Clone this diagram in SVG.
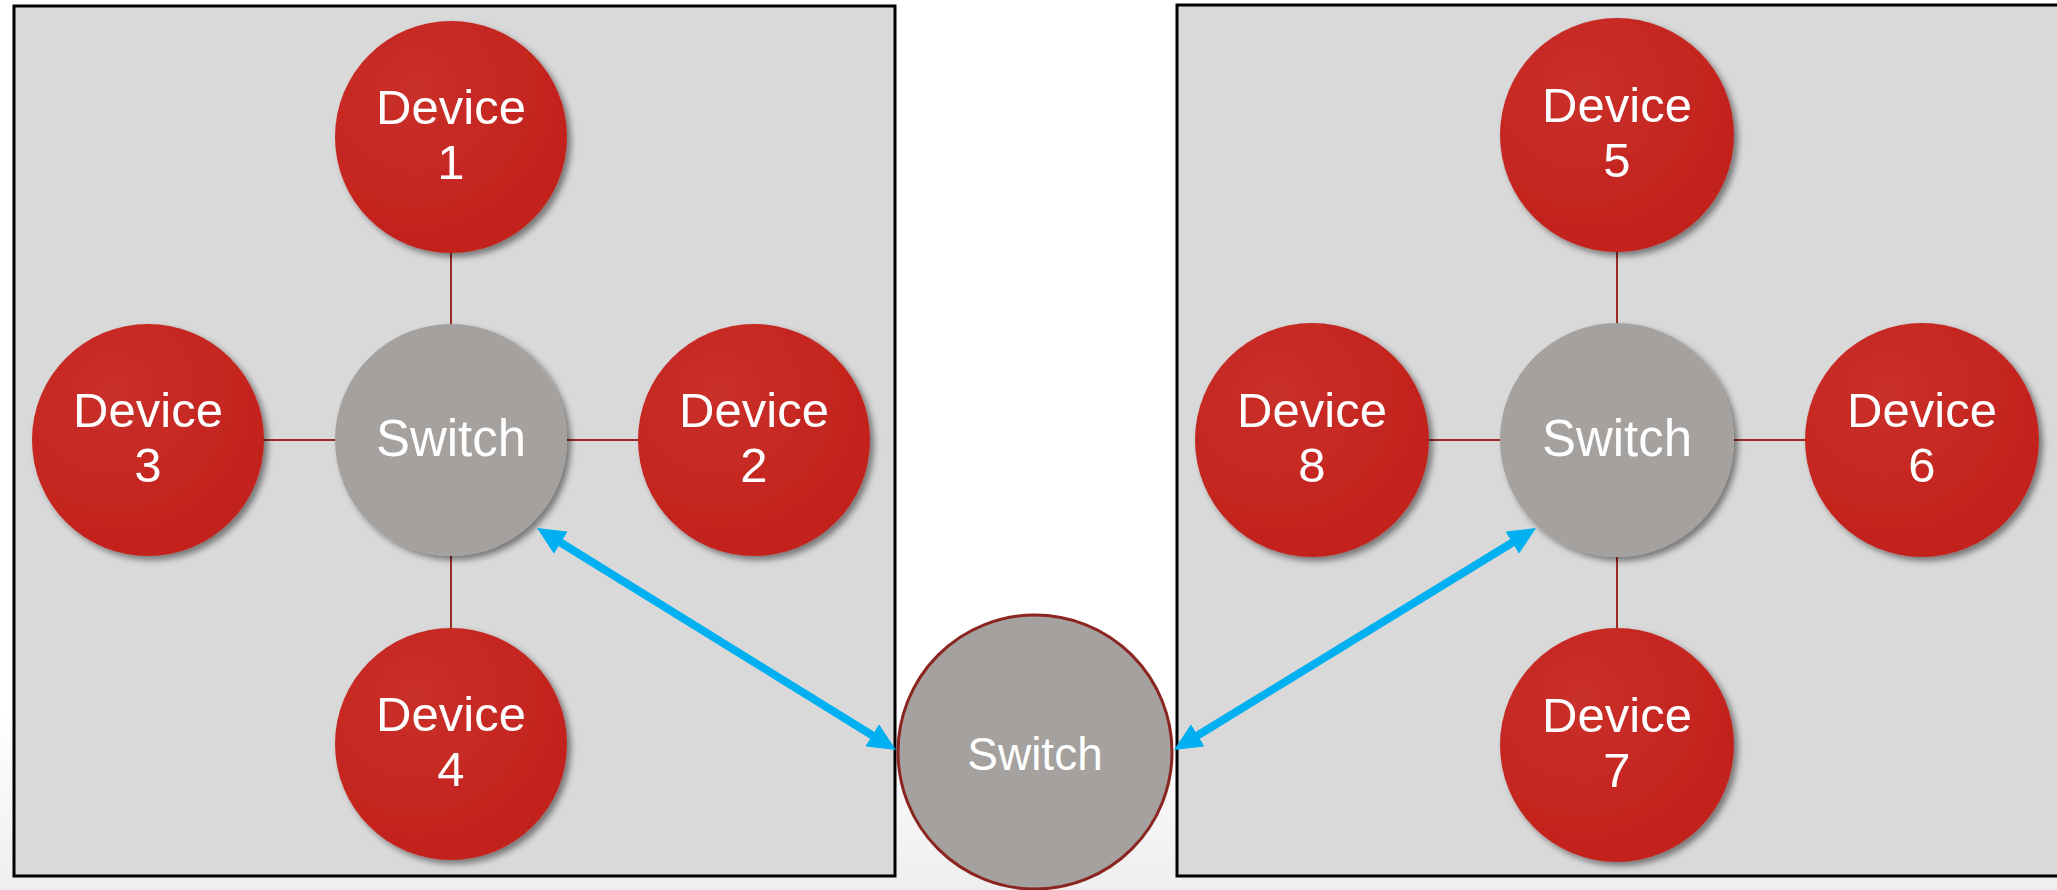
<svg xmlns="http://www.w3.org/2000/svg" width="2057" height="890" viewBox="0 0 2057 890">
<defs>
<linearGradient id="bg" x1="0" y1="0" x2="0" y2="1"><stop offset="0.8" stop-color="#ffffff"/><stop offset="1" stop-color="#eeeeee"/></linearGradient>
<radialGradient id="red" cx="0.35" cy="0.3" r="0.8"><stop offset="0" stop-color="#C9302A"/><stop offset="1" stop-color="#C21F19"/></radialGradient>
<filter id="sh" x="-20%" y="-20%" width="150%" height="150%"><feDropShadow dx="4" dy="4" stdDeviation="3" flood-color="#000" flood-opacity="0.45"/></filter>
<marker id="ah" markerUnits="userSpaceOnUse" viewBox="0 0 28 26" markerWidth="28" markerHeight="26" refX="8" refY="13" orient="auto-start-reverse"><path d="M0,0 L28,13 L0,26 Z" fill="#00B0F0"/></marker>
</defs>
<style>
.box{fill:#D9D9D9;stroke:#000;stroke-width:3}
.dev{fill:url(#red);filter:url(#sh)}
.sw{fill:#A5A19F;filter:url(#sh)}
.msw{fill:#A5A19F;stroke:#8B2520;stroke-width:3}
.lnk{stroke:#9B2B25;stroke-width:2;fill:none}
.arr{stroke:#00B0F0;stroke-width:8;fill:none;marker-start:url(#ah);marker-end:url(#ah)}
text{font-family:"Liberation Sans",Arial,sans-serif;fill:#fff;text-anchor:middle;font-size:49px}
</style>
<rect width="2057" height="890" fill="url(#bg)"/>
<rect class="box" x="14" y="6" width="881" height="870"/>
<rect class="box" x="1177" y="5" width="890" height="871"/>
<g id="connectors">
<line class="lnk" x1="451" y1="250" x2="451" y2="326"/>
<line class="lnk" x1="451" y1="555" x2="451" y2="628"/>
<line class="lnk" x1="263" y1="440" x2="336" y2="440"/>
<line class="lnk" x1="566" y1="440" x2="639" y2="440"/>
<line class="lnk" x1="1617" y1="250" x2="1617" y2="326"/>
<line class="lnk" x1="1617" y1="555" x2="1617" y2="628"/>
<line class="lnk" x1="1428" y1="440" x2="1501" y2="440"/>
<line class="lnk" x1="1733" y1="440" x2="1807" y2="440"/>
</g>
<g id="device1"><circle class="dev" cx="451" cy="137" r="116"/><text x="451" y="124">Device</text><text x="451" y="179">1</text></g>
<g id="device2"><circle class="dev" cx="754" cy="440" r="116"/><text x="754" y="427">Device</text><text x="754" y="482">2</text></g>
<g id="device3"><circle class="dev" cx="148" cy="440" r="116"/><text x="148" y="427">Device</text><text x="148" y="482">3</text></g>
<g id="device4"><circle class="dev" cx="451" cy="744" r="116"/><text x="451" y="731">Device</text><text x="451" y="786">4</text></g>
<g id="switchL"><circle class="sw" cx="451" cy="440" r="116"/><text x="451" y="456" style="font-size:51px">Switch</text></g>
<g id="device5"><circle class="dev" cx="1617" cy="135" r="117"/><text x="1617" y="122">Device</text><text x="1617" y="177">5</text></g>
<g id="device6"><circle class="dev" cx="1922" cy="440" r="117"/><text x="1922" y="427">Device</text><text x="1922" y="482">6</text></g>
<g id="device8"><circle class="dev" cx="1312" cy="440" r="117"/><text x="1312" y="427">Device</text><text x="1312" y="482">8</text></g>
<g id="device7"><circle class="dev" cx="1617" cy="745" r="117"/><text x="1617" y="732">Device</text><text x="1617" y="787">7</text></g>
<g id="switchR"><circle class="sw" cx="1617" cy="440" r="117"/><text x="1617" y="456" style="font-size:51px">Switch</text></g>
<g id="switchM"><circle class="msw" cx="1035" cy="752" r="137"/><text x="1035" y="770" style="font-size:46px">Switch</text></g>
<g id="arrows">
<line class="arr" x1="554" y1="538.5" x2="879" y2="739.5"/>
<line class="arr" x1="1519" y1="538.5" x2="1191" y2="739.5"/>
</g>
</svg>
